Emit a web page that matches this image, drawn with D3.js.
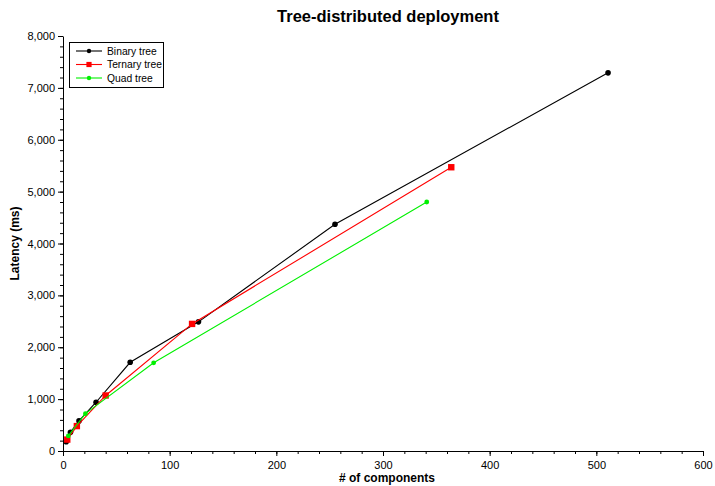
<!DOCTYPE html>
<html><head><meta charset="utf-8">
<script src="https://cdn.jsdelivr.net/npm/d3@7"></script>
<style>body{margin:0;background:#fff}svg{display:block}text{font-family:"Liberation Sans",Arial,sans-serif}</style>
</head><body><svg id="c" width="715" height="486"></svg>
<script>
const binaryX=[3,7,15,31,63,127,255,511];
const binaryY=[180,360,580,940,1710,2490,4370,7290];
const ternaryX=[4,13,40,121,364];
const ternaryY=[220,480,1070,2450,5470];
const quadX=[5,21,85,341];
const quadY=[290,720,1700,4800];
const seriesNames=["Binary tree","Ternary tree","Quad tree"];
const xTicks=[0,100,200,300,400,500,600];
const yTicks=[0,1000,2000,3000,4000,5000,6000,7000,8000];

const svg=d3.select("#c");
const L=63,R=703,T=36,B=451;
const x=d3.scaleLinear().domain([0,600]).range([L,R]);
const y=d3.scaleLinear().domain([0,8000]).range([B,T]);
const fmt=d3.format(",");

// minor ticks
const gx=svg.append("g").attr("transform",`translate(0,${B})`);
gx.call(d3.axisBottom(x).tickValues(d3.range(0,601,20)).tickSize(3).tickFormat(""));
gx.call(g=>g.select(".domain").remove());
const gx2=svg.append("g").attr("transform",`translate(0,${B})`)
  .call(d3.axisBottom(x).tickValues(xTicks).tickSize(5).tickSizeOuter(0).tickFormat(d3.format("d")));
gx2.selectAll("text").attr("font-size",11).attr("fill","#000").attr("dy","0.9em");
gx2.selectAll("line,path").attr("stroke","#000");
gx.selectAll("line").attr("stroke","#000");

const gy=svg.append("g").attr("transform",`translate(${L},0)`);
gy.call(d3.axisLeft(y).tickValues(d3.range(0,8001,200)).tickSize(3).tickFormat(""));
gy.call(g=>g.select(".domain").remove());
gy.selectAll("line").attr("stroke","#000");
const gy2=svg.append("g").attr("transform",`translate(${L},0)`)
  .call(d3.axisLeft(y).tickValues(yTicks).tickSize(5).tickSizeOuter(0).tickFormat(fmt));
gy2.selectAll("text").attr("font-size",11).attr("fill","#000");
gy2.selectAll("line,path").attr("stroke","#000");

// title and labels
svg.append("text").attr("x",388).attr("y",22).attr("text-anchor","middle")
  .attr("font-size",16.5).attr("font-weight","bold").text("Tree-distributed deployment");
svg.append("text").attr("x",(L+R)/2+4).attr("y",482).attr("text-anchor","middle")
  .attr("font-size",12).attr("font-weight","bold").text("# of components");
svg.append("text").attr("transform",`translate(19,${(T+B)/2}) rotate(-90)`).attr("text-anchor","middle")
  .attr("font-size",12).attr("font-weight","bold").text("Latency (ms)");

const series=[
  {name:seriesNames[0],xs:binaryX,ys:binaryY,color:"#000000",shape:"circle",size:2.8},
  {name:seriesNames[1],xs:ternaryX,ys:ternaryY,color:"#ff0000",shape:"square",size:3.2},
  {name:seriesNames[2],xs:quadX,ys:quadY,color:"#00f000",shape:"circle",size:2.4}
];
const line=d3.line().x(d=>x(d[0])).y(d=>y(d[1]));
function marker(g,shape,cx,cy,s,color){
  if(shape==="circle") g.append("circle").attr("cx",cx).attr("cy",cy).attr("r",s).attr("fill",color);
  else g.append("rect").attr("x",cx-s).attr("y",cy-s).attr("width",2*s).attr("height",2*s).attr("fill",color);
}
series.forEach(s=>{
  const pts=s.xs.map((v,i)=>[v,s.ys[i]]);
  svg.append("path").attr("d",line(pts)).attr("fill","none").attr("stroke",s.color).attr("stroke-width",1.1);
  const g=svg.append("g");
  pts.forEach(p=>marker(g,s.shape,x(p[0]),y(p[1]),s.size,s.color));
});

// legend
const lg=svg.append("g");
lg.append("rect").attr("x",69.5).attr("y",42.5).attr("width",94).attr("height",45).attr("fill","#fff").attr("stroke","#000").attr("stroke-width",1);
series.forEach((s,i)=>{
  const cy=51+i*13.5;
  lg.append("line").attr("x1",76).attr("x2",102).attr("y1",cy).attr("y2",cy).attr("stroke",s.color).attr("stroke-width",1.1);
  marker(lg,s.shape,89,cy,s.shape==="square"?2.6:2.2,s.color);
  lg.append("text").attr("x",107).attr("y",cy+3.5).attr("font-size",10.3).text(s.name);
});
</script></body></html>
